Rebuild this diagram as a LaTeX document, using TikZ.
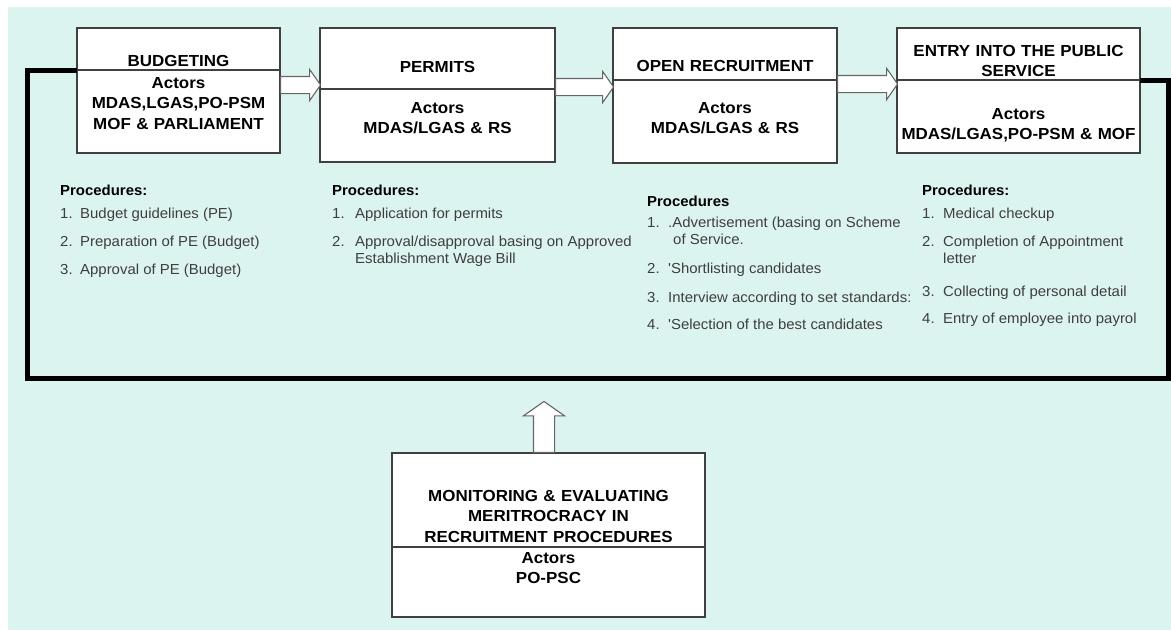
\documentclass[tikz,border=0pt]{standalone}
\usepackage{fontspec}
\setmainfont{Liberation Sans}
\newfontfamily\boxfont[FakeStretch=1.06]{Liberation Sans}
\newfontfamily\procfont[FakeStretch=1.03]{Liberation Sans}
\usetikzlibrary{positioning,shapes.arrows}

\definecolor{bgcyan}{RGB}{220,244,240}
\definecolor{proctext}{RGB}{62,62,62}

\begin{document}
\begin{tikzpicture}[x=1pt,y=-1pt,
		part/.style={draw=black!75, line width=1.1pt, fill=white, inner sep=0pt, outer sep=0pt, align=center, font=\boxfont\fontsize{16}{20.5}\selectfont\bfseries},
		harrow/.style={single arrow, draw=black!60, fill=white, line width=1.1pt, inner sep=0pt, text width=0pt, text height=16pt, text depth=0pt, single arrow tip angle=110, single arrow head extend=7pt, minimum width=30pt, anchor=tail},
		procs/.style={anchor=north west, inner sep=0pt, align=left, text=proctext, font=\procfont\fontsize{14.5}{16.5}\selectfont},
		thickloop/.style={line width=5pt, line join=miter}]
		\useasboundingbox (0,0) rectangle (1171,630);
		\fill[bgcyan] (8,7) rectangle (1171,630);

		% stages
		\node[part, text width=203pt, text height=38pt, text depth=4pt, anchor=north west] (budget) at (77,28) {BUDGETING};
		\node[part, text width=203pt, text height=18pt, text depth=65pt, below=0pt of budget] (budgetact) {Actors\\MDAS,LGAS,PO-PSM\\MOF \& PARLIAMENT};
		\node[part, text width=235pt, text height=44pt, text depth=17pt, anchor=north west] (permits) at (320,28) {PERMITS};
		\node[part, text width=235pt, text height=24pt, text depth=49pt, below=0pt of permits] (permitsact) {Actors\\MDAS/LGAS \& RS};
		\node[part, text width=224pt, text height=43pt, text depth=9pt, anchor=north west] (open) at (613,28) {OPEN RECRUITMENT};
		\node[part, text width=224pt, text height=33pt, text depth=50pt, below=0pt of open] (openact) {Actors\\MDAS/LGAS \& RS};
		\node[part, text width=243pt, text height=28pt, text depth=24pt, anchor=north west] (entry) at (897,28) {ENTRY INTO THE PUBLIC\\SERVICE};
		\node[part, text width=243pt, text height=39pt, text depth=34pt, below=0pt of entry] (entryact) {Actors\\MDAS/LGAS,PO-PSM \& MOF};
		\node[part, text width=313pt, text height=48pt, text depth=46pt, anchor=north west] (monitor) at (392,453) {MONITORING \& EVALUATING\\MERITROCRACY IN\\RECRUITMENT PROCEDURES};
		\node[part, text width=313pt, text height=16pt, text depth=54pt, below=0pt of monitor] (monitoract) {Actors\\PO-PSC};

		% procedures
		\node[procs] (budgetproc) at (60,184.5) {\textcolor{black}{\textbf{Procedures:}}\\[7pt]
			\makebox[20pt][l]{1.}Budget guidelines (PE)\\[11.5pt]
			\makebox[20pt][l]{2.}Preparation of PE (Budget)\\[11.5pt]
			\makebox[20pt][l]{3.}Approval of PE (Budget)};
		\node[procs] (permitsproc) at (332,184.5) {\textcolor{black}{\textbf{Procedures:}}\\[7pt]
			\makebox[23pt][l]{1.}Application for permits\\[11.5pt]
			\makebox[23pt][l]{2.}Approval/disapproval basing on Approved\\
			\hspace*{23pt}Establishment Wage Bill};
		\node[procs] (openproc) at (647,195.5) {\textcolor{black}{\textbf{Procedures}}\\[5pt]
			\makebox[21pt][l]{1.}.Advertisement (basing on Scheme\\
			\hspace*{26pt}of Service.\\[12.5pt]
			\makebox[21pt][l]{2.}'Shortlisting candidates\\[12.5pt]
			\makebox[21pt][l]{3.}Interview according to set standards:\\[10.5pt]
			\makebox[21pt][l]{4.}'Selection of the best candidates};
		\node[procs] (entryproc) at (922,184.5) {\textcolor{black}{\textbf{Procedures:}}\\[7pt]
			\makebox[21pt][l]{1.}Medical checkup\\[11.5pt]
			\makebox[21pt][l]{2.}Completion of Appointment\\
			\hspace*{21pt}letter\\[16.5pt]
			\makebox[21pt][l]{3.}Collecting of personal detail\\[10.5pt]
			\makebox[21pt][l]{4.}Entry of employee into payrol};

		% flow arrows
		\node[harrow, minimum height=40pt] (budgetarr) at ([yshift=-15pt]budgetact.north east) {};
		\node[harrow, minimum height=58pt] (permitsarr) at ([yshift=2pt]permitsact.north east) {};
		\node[harrow, minimum height=60pt] (openarr) at ([yshift=-4pt]openact.north east) {};
		\node[harrow, rotate=90, text height=20pt, minimum height=51pt, minimum width=40pt, single arrow head extend=10pt] (monitorarr) at ([xshift=-4.5pt]monitor.north) {};

		% feedback loop
		\coordinate (loopl) at (27,378);
		\coordinate (loopr) at (1168,378);
		\draw[thickloop] (budget.south west) -| (loopl) -- (loopr) |- (entry.south east);
	\end{tikzpicture}
\end{document}
